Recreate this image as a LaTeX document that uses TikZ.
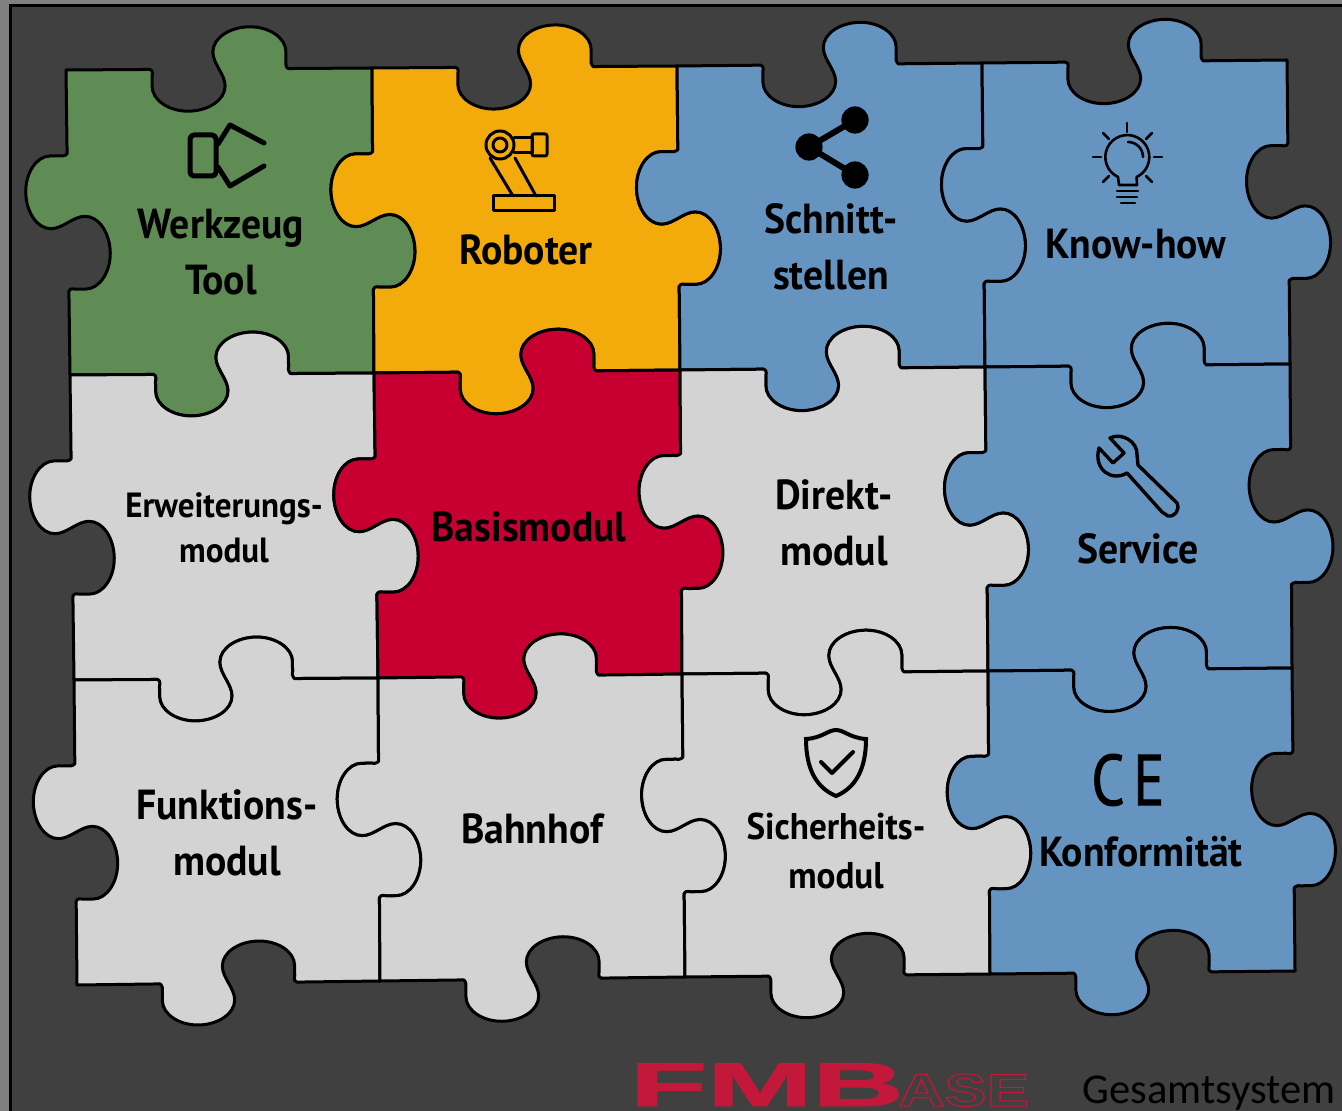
\documentclass[tikz,border=0pt]{standalone}
\usepackage{fontspec}
\usetikzlibrary{calc}
\setmainfont[FakeStretch=0.945]{PT Sans}
\newfontfamily\markfont[FakeStretch=0.945,FakeBold=1.2]{PT Sans}
\newfontfamily\totalfont{Carlito}
\newfontfamily\logofont[BoldFeatures={FakeBold=1.5}]{Liberation Sans}
\newfontfamily\hollowfont{Liberation Sans}
\definecolor{framegray}{HTML}{808080}
\definecolor{backdark}{HTML}{404040}
\definecolor{toolgreen}{HTML}{5F8C54}
\definecolor{robotorange}{HTML}{F3AA0B}
\definecolor{linkblue}{HTML}{6694C1}
\definecolor{basered}{HTML}{C80032}
\definecolor{modulegray}{HTML}{D3D3D3}
\definecolor{logored}{HTML}{C4183A}
\newcommand{\hollowtext}[1]{\special{pdf:code 1 Tr 0.5 w}#1\special{pdf:code 0 Tr 1 w}}
% points of one seam, in pixels along and across a 306 pixel edge
\newcommand{\seamdef}[2]{\foreach \tn/\ta/\tp in {a/84/0,b/86/0,c/87/2,d/86/7,e/86/17,f/86/31,g/103/42,h/122/42,
      i/142/42,j/159/31,k/159/17,l/159/5,m/147/-5,n/147/-17,o/147/-31,q/164/-42,r/184/-42,
      s/203/-42,t/220/-31,u/220/-17,v/220/-7,w/219/-2,x/222/0}{
      \coordinate (#1-#2-\tn) at ($(#1)!\ta/306!(#2)+(#1)!\tp/306!-90:(#2)-(#1)$);}}
\newcommand{\piece}[5]{\seamdef{#1}{#2}\seamdef{#2}{#3}\seamdef{#3}{#4}\seamdef{#4}{#1}
  \draw[piece, fill=#5] (#1) to[seam={#1}{#2}] (#2) to[seam={#2}{#3}] (#3) to[seam={#3}{#4}] (#4) to[seam={#4}{#1}] (#1) -- cycle;}
\tikzset{
  seam/.style n args={2}{to path={
    -- (#1-#2-a)
    .. controls (#1-#2-b) and (#1-#2-c) .. (#1-#2-d)
    -- (#1-#2-e)
    .. controls (#1-#2-f) and (#1-#2-g) .. (#1-#2-h)
    .. controls (#1-#2-i) and (#1-#2-j) .. (#1-#2-k)
    .. controls (#1-#2-l) and (#1-#2-m) .. (#1-#2-n)
    .. controls (#1-#2-o) and (#1-#2-q) .. (#1-#2-r)
    .. controls (#1-#2-s) and (#1-#2-t) .. (#1-#2-u)
    -- (#1-#2-v)
    .. controls (#1-#2-w) and (#1-#2-x) .. (#1-#2-x)
    -- (#2)}},
  piece/.style={draw=black, line width=1.5pt, line join=round},
  biglabel/.style={align=center, text=black, inner sep=0pt, font=\fontsize{21}{28}\selectfont\bfseries},
  smalllabel/.style={align=center, text=black, inner sep=0pt, font=\fontsize{17.5}{22.5}\selectfont\bfseries},
  icon/.style={draw=black, line cap=round, line join=round, line width=1.5pt},
}
\begin{document}
\begin{tikzpicture}[x=0.5pt,y=-0.5pt]
\useasboundingbox (0,0) rectangle (1342,1111);
\fill[framegray] (0,0) rectangle (1342,1111);
\fill[backdark] (10,6) rectangle (1342,1111);
\draw[line width=1.5pt] (10,1111) -- (10,6) -- (1342,6);
% corners of the pieces
\coordinate (c00) at (66,70);
\coordinate (c10) at (372,68);
\coordinate (c20) at (677,66);
\coordinate (c30) at (982,63);
\coordinate (c40) at (1287,60);
\coordinate (c01) at (70,375);
\coordinate (c11) at (374,373);
\coordinate (c21) at (680,370);
\coordinate (c31) at (985,367);
\coordinate (c41) at (1290,364);
\coordinate (c02) at (74,680);
\coordinate (c12) at (378,678);
\coordinate (c22) at (682,674);
\coordinate (c32) at (988,671);
\coordinate (c42) at (1292,668);
\coordinate (c03) at (77,985);
\coordinate (c13) at (380,981);
\coordinate (c23) at (685,977);
\coordinate (c33) at (990,974);
\coordinate (c43) at (1295,971);
% pieces
\piece{c00}{c10}{c11}{c01}{toolgreen}
\piece{c10}{c20}{c21}{c11}{robotorange}
\piece{c20}{c30}{c31}{c21}{linkblue}
\piece{c30}{c40}{c41}{c31}{linkblue}
\piece{c01}{c11}{c12}{c02}{modulegray}
\piece{c11}{c21}{c22}{c12}{basered}
\piece{c21}{c31}{c32}{c22}{modulegray}
\piece{c31}{c41}{c42}{c32}{linkblue}
\piece{c02}{c12}{c13}{c03}{modulegray}
\piece{c12}{c22}{c23}{c13}{modulegray}
\piece{c22}{c32}{c33}{c23}{modulegray}
\piece{c32}{c42}{c43}{c33}{linkblue}
% labels
\node[biglabel] (tool) at (221,252) {Werkzeug\\Tool};
\node[biglabel] (robot) at (526,250) {Roboter};
\node[biglabel] (iface) at (831,247) {Schnitt-\\stellen};
\node[biglabel] (know) at (1136,244) {Know-how};
\node[smalllabel] (extra) at (224,528) {Erweiterungs-\\modul};
\node[biglabel] (base) at (529,527) {Basismodul};
\node[biglabel] (direct) at (834,523) {Direkt-\\modul};
\node[biglabel] (service) at (1138,549) {Service};
\node[biglabel] (func) at (227,833) {Funktions-\\modul};
\node[biglabel] (station) at (532,829) {Bahnhof};
\node[smalllabel, font=\fontsize{18.6}{24.5}\selectfont\bfseries] (safety) at (836,851) {Sicherheits-\\modul};
\node[biglabel] (conform) at (1141,852) {Konformität};
\node[inner sep=0pt, text=black, xscale=0.86, font=\markfont\fontsize{36}{36}\selectfont] (ce) at (1128,780) {C\hspace{5pt}E};
% gripper
\draw[icon, line width=2.5pt, rounded corners=2pt] (190,135) rectangle (216,176);
\draw[icon, line width=2.5pt] (218,144) -- (230,125) -- (264,143);
\draw[icon, line width=2.5pt] (218,167) -- (230,186) -- (264,166);
% robot
\draw[icon] (493,196) rectangle (554,211);
\draw[icon] (490,158) -- (513,196);
\draw[icon] (515,158) -- (536,196);
\draw[icon] (500,145) circle[radius=7pt];
\draw[icon] (500,145) circle[radius=3.5pt];
\draw[icon] (514,138) -- (532,138) -- (532,153) -- (514,153);
\draw[icon, rounded corners=1pt] (532,134) rectangle (547,156);
% share
\draw[line width=3pt] (855,120) -- (809,147) -- (855,175);
\fill (855,120) circle[radius=6.8pt];
\fill (809,147) circle[radius=6.8pt];
\fill (855,175) circle[radius=6.8pt];
% bulb
\draw[icon, line width=1.3pt] (1118,177) arc[start angle=245,end angle=-65,radius=11pt] -- (1137,185) -- (1119,185) -- cycle;
\draw[icon, line width=1.3pt] (1128,142) arc[start angle=90,end angle=0,radius=7.5pt];
\draw[icon, line width=1.3pt] (1117,191) -- (1138,191);
\draw[icon, line width=1.3pt] (1117,197) -- (1137,197);
\draw[icon, line width=1.3pt] (1121,203) -- (1135,203);
\draw[icon, line width=1.3pt] (1127,123) -- (1127,132);
\draw[icon, line width=1.3pt] (1093,157) -- (1101,157);
\draw[icon, line width=1.3pt] (1154,157) -- (1162,157);
\draw[icon, line width=1.3pt] (1103,133) -- (1109,139);
\draw[icon, line width=1.3pt] (1152,133) -- (1146,139);
\draw[icon, line width=1.3pt] (1103,182) -- (1109,176);
\draw[icon, line width=1.3pt] (1152,182) -- (1146,176);
% wrench
\draw[icon, line width=1.7pt] (1110,438) .. controls (1122,432) and (1138,442) .. (1137,455) -- (1138,465) -- (1177,503)
  .. controls (1180,510) and (1175,517) .. (1168,516) -- (1162,512) -- (1127,473)
  .. controls (1112,482) and (1093,470) .. (1099,448) -- (1113,463) -- (1124,453) -- cycle;
% shield
\draw[icon, line width=2pt, line join=miter] (806,739) .. controls (822,738) and (828,730) .. (836,730)
  .. controls (844,730) and (850,738) .. (866,739) .. controls (866,770) and (855,788) .. (836,796)
  .. controls (817,788) and (806,770) .. (806,739) -- cycle;
\draw[icon, line width=2pt] (821,762) -- (832,773) -- (853,752);
% footer
\node[anchor=base west, inner sep=0pt, xscale=2.04, text depth=0pt, text=logored, font=\logofont\fontsize{31}{31}\selectfont\bfseries] (fmb) at (629,1106) {FMB};
\node[anchor=base west, inner sep=0pt, xscale=1.38, text depth=0pt, text=logored, font=\hollowfont\fontsize{23}{23}\selectfont\bfseries] (ase) at (898,1106) {\hollowtext{ASE}};
\node[anchor=base west, inner sep=0pt, text=black, font=\totalfont\fontsize{21.3}{21.3}\selectfont] (total) at (1082,1103) {Gesamtsystem};
\end{tikzpicture}
\end{document}
